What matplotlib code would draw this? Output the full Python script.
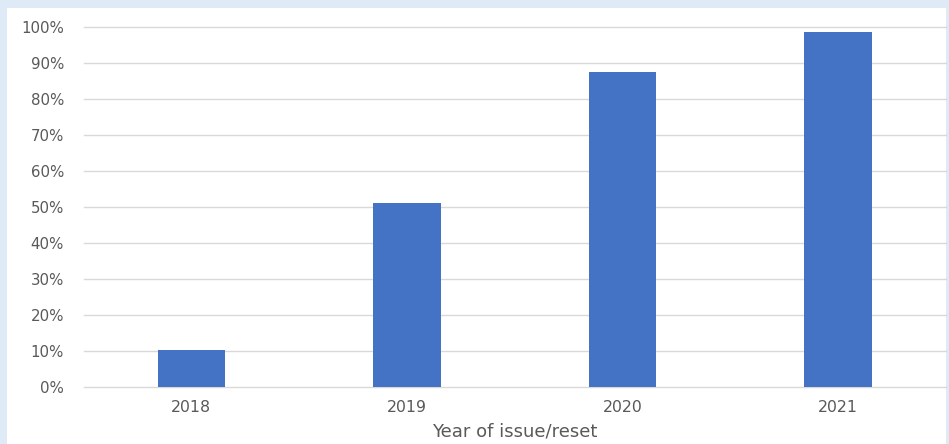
import matplotlib.pyplot as plt
import matplotlib.patches as mpatches
import numpy as np
from matplotlib.ticker import PercentFormatter

years = ["2018", "2019", "2020", "2021"]
shares = [0.103, 0.512, 0.876, 0.987]

plt.rcParams['font.family'] = ['DejaVu Sans']

fig = plt.figure(figsize=(9.49, 4.44), dpi=100)
fig.patch.set_facecolor('#DEEAF6')
# white chart area inside the blue frame
frame = mpatches.Rectangle((7/949, 0), (946-7)/949, (444-8)/444,
                           transform=fig.transFigure, facecolor='white',
                           edgecolor='none')
fig.add_artist(frame)
frame.set_zorder(-10)

ax = fig.add_axes([83.6/949, 57/444, (946-83.6)/949, 360/444])
ax.set_facecolor('none')
ax.set_zorder(5)

x = np.arange(len(years))
ax.bar(x, shares, width=0.313, color='#4472C4', zorder=3)

ax.set_xlim(-0.5, len(years) - 0.5)
ax.set_ylim(0, 1)
ax.set_yticks(np.arange(0, 1.01, 0.1))
ax.yaxis.set_major_formatter(PercentFormatter(1.0, decimals=0))
ax.set_xticks(x)
ax.set_xticklabels(years)
ax.grid(axis='y', color='#D9D9D9', linewidth=1, zorder=0)
for gl in ax.get_ygridlines():
    gl.set_clip_on(False)
for s in ax.spines.values():
    s.set_visible(False)
ax.tick_params(axis='both', length=0, colors='#595959')
ax.tick_params(axis='y', pad=14, labelsize=10.8)
ax.tick_params(axis='x', pad=9, labelsize=11.3)
ax.set_xlabel("Year of issue/reset", color='#595959', fontsize=13, labelpad=6)

fig.savefig("out.png", dpi=100, facecolor=fig.get_facecolor())
